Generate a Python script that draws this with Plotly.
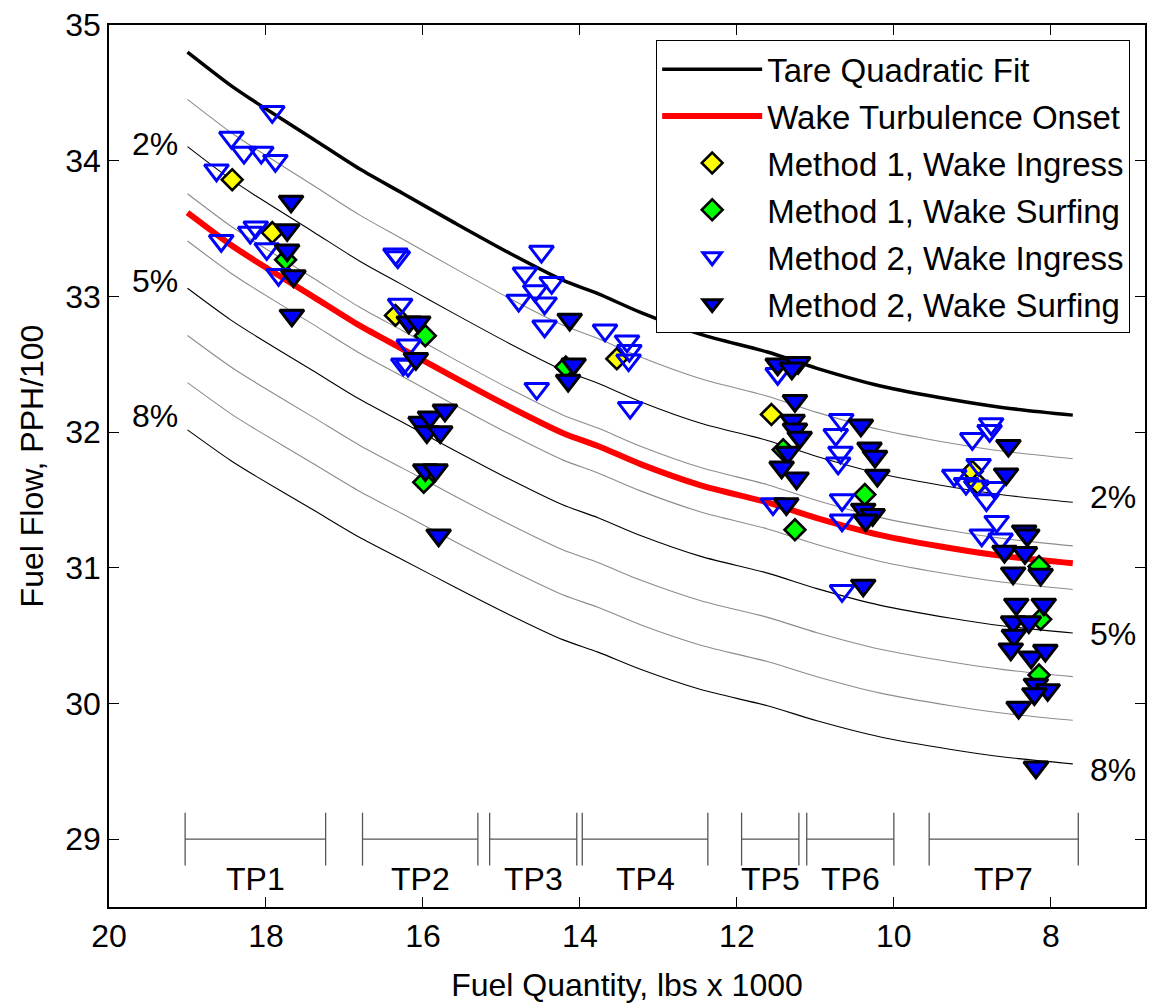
import plotly.graph_objects as go

# ---------------- data ----------------
tare_x = [19.0, 18.45, 18.13, 17.40, 16.81, 16.26, 15.59, 14.90, 14.22, 13.77,
          13.22, 12.46, 11.61, 10.98, 10.17, 9.27, 8.60, 7.72]
tare_y = [34.80, 34.555, 34.43, 34.16, 33.94, 33.76, 33.54, 33.32, 33.12, 33.02,
          32.88, 32.72, 32.59, 32.47, 32.34, 32.24, 32.18, 32.125]

pct_levels = [1, 2, 3, 4, 5, 6, 7, 8]        # % below tare fit
pct_labeled = [2, 5, 8]
onset_pct = 3.4                               # wake turbulence onset, % below tare

m1_ingress_x = [18.43, 17.92, 16.35, 13.53, 11.56, 9.00, 8.93]
m1_ingress_y = [33.86, 33.47, 32.86, 32.54, 32.13, 31.71, 31.62]

m1_surf_x = [17.75, 15.97, 15.99, 14.18, 11.41, 11.26, 10.37, 8.15, 8.13, 8.15]
m1_surf_y = [33.27, 32.71, 31.63, 32.48, 31.87, 31.28, 31.54, 31.01, 30.62, 30.21]

m2_ingress_x = [17.92, 18.44, 18.28, 18.06, 17.88, 18.63, 18.57, 18.13, 18.20, 17.99, 17.84,
                16.35, 16.32, 16.29, 16.18, 16.25, 16.19,
                14.49, 14.70, 14.36, 14.57, 14.78, 14.45, 14.45, 14.55,
                13.68, 13.40, 13.37, 13.38, 13.36,
                11.48, 11.54,
                10.67, 10.74, 10.68, 10.71, 10.66, 10.66, 10.66,
                8.76, 8.78, 9.00, 8.92, 9.23, 9.08, 8.95, 8.72, 8.82, 8.69, 8.88, 8.64]
m2_ingress_y = [34.36, 34.17, 34.06, 34.06, 34.00, 33.93, 33.41, 33.51, 33.47, 33.35, 33.16,
                33.31, 33.29, 32.94, 32.64, 32.50, 32.49,
                33.33, 33.17, 33.10, 33.04, 32.97, 32.95, 32.78, 32.32,
                32.75, 32.67, 32.60, 32.53, 32.18,
                32.43, 31.47,
                32.09, 31.98, 31.85, 31.77, 31.50, 31.35, 30.83,
                32.06, 32.01, 31.95, 31.76, 31.68, 31.62, 31.60, 31.59, 31.50, 31.34, 31.24, 31.21]

m2_surf_x = [17.68, 17.73, 17.73, 17.65, 17.67,
             16.18, 16.06, 16.09, 16.03, 15.91, 15.72, 15.95, 15.78, 15.97, 15.84, 15.80,
             14.13, 14.08, 14.15,
             11.48, 11.22, 11.30, 11.26, 11.29, 11.26, 11.20, 11.35, 11.43, 11.24, 11.37,
             10.42, 10.31, 10.24, 10.21, 10.39, 10.27, 10.36, 10.39,
             8.54, 8.57, 8.34, 8.30, 8.59, 8.33, 8.48, 8.13, 8.44, 8.09, 8.48, 8.28,
             8.47, 8.51, 8.25, 8.07, 8.19, 8.04, 8.21, 8.41, 8.19]
m2_surf_y = [33.70, 33.49, 33.34, 33.15, 32.86,
             32.81, 32.81, 32.54, 32.07, 32.11, 32.16, 32.00, 32.00, 31.72, 31.72, 31.24,
             32.83, 32.50, 32.38,
             32.50, 32.51, 32.47, 32.23, 32.085, 32.02, 31.96, 31.85, 31.74, 31.66, 31.47,
             32.05, 31.88, 31.82, 31.68, 31.43, 31.39, 31.35, 30.87,
             31.90, 31.69, 31.27, 31.24, 31.12, 31.11, 30.96, 30.95, 30.73, 30.73, 30.60, 30.60,
             30.50, 30.40, 30.34, 30.39, 30.14, 30.10, 30.07, 29.97, 29.53]

tp_names = ["TP1", "TP2", "TP3", "TP4", "TP5", "TP6", "TP7"]
tp_start = [19.03, 16.77, 15.15, 13.97, 11.94, 11.11, 9.55]
tp_end = [17.24, 15.30, 14.04, 12.37, 11.21, 10.00, 7.65]

x_ticks = [20, 18, 16, 14, 12, 10, 8]
y_ticks = [29, 30, 31, 32, 33, 34, 35]

# ---------------- figure ----------------
FONT = "Liberation Sans, Arial, Helvetica, sans-serif"
FS = 32
fig = go.Figure()

# percentage reference lines (derived from tare fit)
for p in pct_levels:
    ys = [v * (1 - p / 100.0) for v in tare_y]
    fig.add_trace(go.Scatter(
        x=tare_x, y=ys, mode="lines", showlegend=False, hoverinfo="skip",
        line=dict(color="black" if p in pct_labeled else "#8c8c8c", width=1.1,
                  shape="spline", smoothing=0.8)))

# TP bars
BAR_Y = 29.0
CAP = 0.195
bx, by = [], []
for s, e in zip(tp_start, tp_end):
    bx += [s, e, None, s, s, None, e, e, None]
    by += [BAR_Y, BAR_Y, None, BAR_Y - CAP, BAR_Y + CAP, None, BAR_Y - CAP, BAR_Y + CAP, None]
fig.add_trace(go.Scatter(x=bx, y=by, mode="lines", showlegend=False, hoverinfo="skip",
                         line=dict(color="#555555", width=1.3)))

fig.add_trace(go.Scatter(x=tare_x, y=tare_y, mode="lines", name="Tare Quadratic Fit",
                         legendgroup="a",
                         line=dict(color="black", width=3.5, shape="spline", smoothing=0.8)))
fig.add_trace(go.Scatter(x=tare_x, y=[v * (1 - onset_pct / 100.0) for v in tare_y],
                         mode="lines", name="Wake Turbulence Onset", legendgroup="b",
                         line=dict(color="#ff0000", width=6, shape="spline", smoothing=0.8)))

fig.add_trace(go.Scatter(x=m1_ingress_x, y=m1_ingress_y, mode="markers",
                         name="Method 1, Wake Ingress", legendgroup="c",
                         marker=dict(symbol="diamond", size=16, color="#ffff00",
                                     line=dict(color="black", width=2.6))))
fig.add_trace(go.Scatter(x=m1_surf_x, y=m1_surf_y, mode="markers",
                         name="Method 1, Wake Surfing", legendgroup="d",
                         marker=dict(symbol="diamond", size=16, color="#00ff00",
                                     line=dict(color="black", width=2.6))))
fig.add_trace(go.Scatter(x=m2_ingress_x, y=m2_ingress_y, mode="markers",
                         name="Method 2, Wake Ingress", legendgroup="e",
                         marker=dict(symbol="triangle-down", size=21, color="rgba(0,0,0,0)",
                                     line=dict(color="#0000ff", width=3))))
fig.add_trace(go.Scatter(x=m2_surf_x, y=m2_surf_y, mode="markers",
                         name="Method 2, Wake Surfing", legendgroup="f",
                         marker=dict(symbol="triangle-down", size=21, color="#0000ff",
                                     line=dict(color="black", width=3))))

ann = []
for p, yl, yr in zip(pct_labeled, [34.12, 33.11, 32.12], [31.52, 30.51, 29.51]):
    ann.append(dict(x=19.41, y=yl, text=f"{p}%", showarrow=False, xref="x", yref="y",
                    font=dict(family=FONT, size=FS, color="black")))
    ann.append(dict(x=7.21, y=yr, text=f"{p}%", showarrow=False, xref="x", yref="y",
                    font=dict(family=FONT, size=FS, color="black")))
for n, s, e in zip(tp_names, tp_start, tp_end):
    ann.append(dict(x=(s + e) / 2, y=28.705, text=n, showarrow=False, xref="x", yref="y",
                    font=dict(family=FONT, size=FS, color="black")))

axis_common = dict(showline=True, linecolor="black", linewidth=1.5, mirror="ticks",
                   ticks="inside", ticklen=10, tickwidth=1.3, tickcolor="black",
                   showgrid=False, zeroline=False,
                   tickfont=dict(family=FONT, size=FS, color="black"))

fig.update_layout(
    width=1154, height=1004,
    margin=dict(l=109, r=7, t=21, b=96),
    paper_bgcolor="white", plot_bgcolor="white",
    font=dict(family=FONT, size=FS, color="black"),
    xaxis=dict(range=[20, 6.8], tickvals=x_ticks, ticktext=[str(v) for v in x_ticks],
               title=dict(text="Fuel Quantity, lbs x 1000", standoff=20,
                          font=dict(family=FONT, size=FS)), **axis_common),
    yaxis=dict(range=[28.5, 35], tickvals=y_ticks, ticktext=[str(v) for v in y_ticks],
               title=dict(text="Fuel Flow, PPH/100", standoff=12,
                          font=dict(family=FONT, size=FS)), **axis_common),
    legend=dict(x=0.9855, y=0.983, xanchor="right", yanchor="top",
                bgcolor="white", bordercolor="black", borderwidth=1.2,
                font=dict(family=FONT, size=33), itemwidth=100, tracegroupgap=1),
    annotations=ann,
    showlegend=True,
)

fig.write_html("out.html")
